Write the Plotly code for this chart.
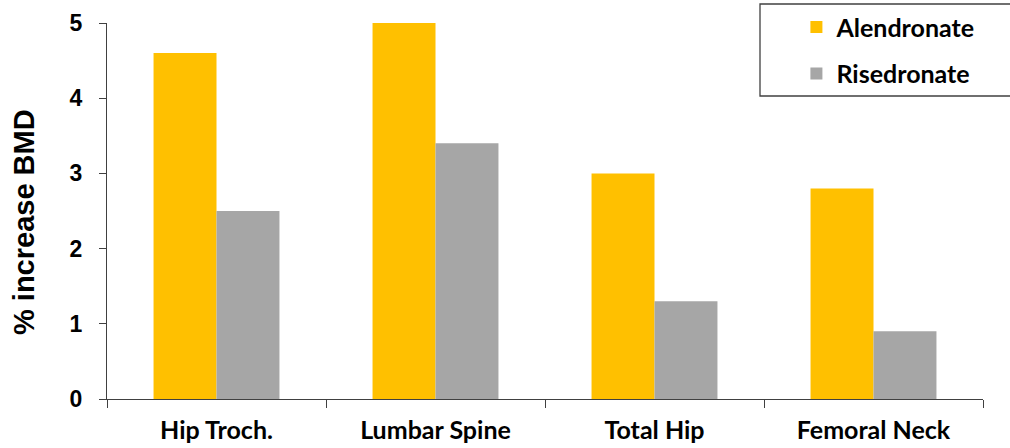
import plotly.graph_objects as go

categories = ["Hip Troch.", "Lumbar Spine", "Total Hip", "Femoral Neck"]
alendronate = [4.6, 5.0, 3.0, 2.8]
risedronate = [2.5, 3.4, 1.3, 0.9]
y_ticks = [0, 1, 2, 3, 4, 5]
y_title = "% increase BMD"

YELLOW = "#FFC000"
GRAY = "#A6A6A6"
AXIS = "#404040"

# plot area in pixels
L, R, T, B = 107, 983, 23, 399
W, H = R - L, B - T

fig = go.Figure()
fig.add_trace(go.Bar(name="Alendronate", x=categories, y=alendronate,
                     marker=dict(color=YELLOW, line=dict(width=0)),
                     legendgroup="a"))
fig.add_trace(go.Bar(name="Risedronate", x=categories, y=risedronate,
                     marker=dict(color=GRAY, line=dict(width=0)),
                     legendgroup="r"))

fig.update_layout(
    width=1010, height=448,
    margin=dict(l=L, r=1010 - R, t=T, b=448 - B, autoexpand=False),
    plot_bgcolor="white", paper_bgcolor="white",
    barmode="group", bargap=0.425, bargroupgap=0,
    showlegend=True,
    legend=dict(
        x=0.787, y=1.05, xanchor="left", yanchor="top",
        font=dict(family="Lato", size=25, color="black", weight="bold"),
        traceorder="grouped", tracegroupgap=11,
        bgcolor="rgba(0,0,0,0)", borderwidth=0,
    ),
    xaxis=dict(
        type="category", showline=True, linecolor=AXIS, linewidth=1.3,
        ticks="outside", tickson="boundaries", ticklen=8, tickcolor=AXIS,
        tickfont=dict(family="Lato", size=25, color="black", weight="bold"),
        ticklabelstandoff=9, showgrid=False, zeroline=False, automargin=False,
    ),
    yaxis=dict(
        range=[0, 5], tickvals=y_ticks, showline=True, linecolor=AXIS,
        linewidth=1.3, ticks="outside", ticklen=7, tickcolor=AXIS,
        tickfont=dict(family="Liberation Sans", size=23, color="black", weight="bold"),
        ticklabelstandoff=12, showgrid=False, zeroline=False, automargin=False,
    ),
    annotations=[dict(
        text=y_title, textangle=-90, showarrow=False,
        xref="paper", yref="paper",
        x=(24 - L) / W, y=(B - 222) / H, xanchor="center", yanchor="middle",
        font=dict(family="Liberation Sans", size=29, color="black", weight="bold"),
    )],
    shapes=[dict(type="rect", xref="paper", yref="paper",
                 x0=(760 - L) / W, x1=(1012 - L) / W,
                 y0=(B - 96) / H, y1=(B - 4) / H,
                 line=dict(color=AXIS, width=1.3), fillcolor="rgba(0,0,0,0)")],
)

fig.write_html("out.html")
